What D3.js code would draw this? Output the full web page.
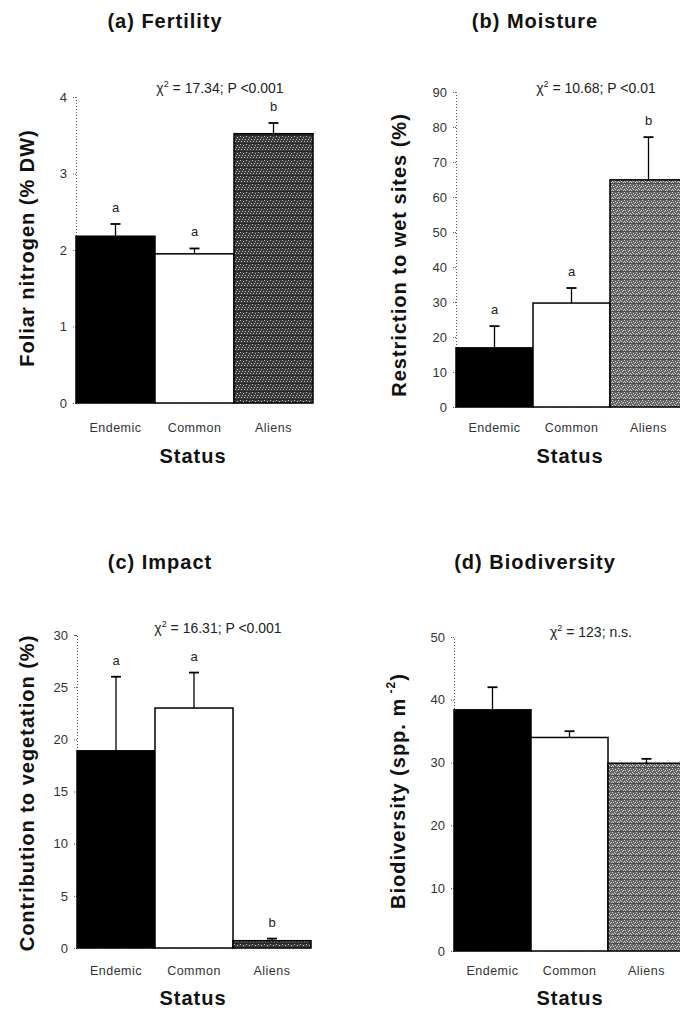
<!DOCTYPE html>
<html>
<head>
<meta charset="utf-8">
<script src="https://cdn.jsdelivr.net/npm/d3@7"></script>
<style>
  body { margin: 0; background: #fff; }
  svg { display: block; font-family: "Liberation Sans", Arial, sans-serif; }
</style>
</head>
<body>
<svg id="chart" width="680" height="1013"></svg>
<script>
// Data
const categories = ["Endemic", "Common", "Aliens"];

const fertilityMean = [2.18, 1.95, 3.52];
const fertilitySE = [0.16, 0.07, 0.14];
const fertilityLetters = ["a", "a", "b"];
const fertilityTicks = [0, 1, 2, 3, 4];

const moistureMean = [16.9, 29.7, 64.9];
const moistureSE = [6.2, 4.3, 12.2];
const moistureLetters = ["a", "a", "b"];
const moistureTicks = [0, 10, 20, 30, 40, 50, 60, 70, 80, 90];

const impactMean = [18.9, 23.0, 0.7];
const impactSE = [7.1, 3.4, 0.2];
const impactLetters = ["a", "a", "b"];
const impactTicks = [0, 5, 10, 15, 20, 25, 30];

const biodivMean = [38.4, 34.0, 29.9];
const biodivSE = [3.6, 1.0, 0.7];
const biodivLetters = ["", "", ""];
const biodivTicks = [0, 10, 20, 30, 40, 50];

const svg = d3.select("#chart");

// Stippled grey textures for the Aliens bars
const defs = svg.append("defs");
function stipple(id, base, light, line, dots) {
    const p = defs.append("pattern")
        .attr("id", id)
        .attr("patternUnits", "userSpaceOnUse")
        .attr("width", 6).attr("height", 8);
    p.append("rect").attr("width", 6).attr("height", 8).attr("fill", base);
    p.selectAll("rect.d").data(dots).join("rect")
        .attr("class", "d")
        .attr("x", d => d[0]).attr("y", d => d[1])
        .attr("width", 1).attr("height", 1)
        .attr("fill", light);
    p.append("rect").attr("y", 7).attr("width", 6).attr("height", 1)
        .attr("fill", line).attr("opacity", 0.5);
}
stipple("texDark", "#3c3c3c", "#bdbdbd", "#111",
    [[0, 0], [3, 1], [5, 3], [2, 3], [4, 5], [1, 5]]);
stipple("texMid", "#666", "#d0d0d0", "#333",
    [[0, 0], [3, 1], [1, 2], [5, 2], [4, 3], [2, 4], [0, 5], [3, 5], [5, 6], [1, 6]]);

const panels = [
    { title: "(a) Fertility", titleX: 165, titleY: 28,
      ylabel: "Foliar nitrogen (% DW)", labX: 27, labY: 248,
      mean: fertilityMean, se: fertilitySE, letters: fertilityLetters,
      ticks: fertilityTicks, left: 76, bw: 79, y0: 403, y1: 97,
      stat: ["17.34; P <0.001"], statX: 220, statY: 93,
      alienFill: "url(#texDark)", statusX: 193, statusY: 463, catY: 432 },
    { title: "(b) Moisture", titleX: 535, titleY: 28,
      ylabel: "Restriction to wet sites (%)", labX: 399, labY: 255,
      mean: moistureMean, se: moistureSE, letters: moistureLetters,
      ticks: moistureTicks, left: 456, bw: 77, y0: 407, y1: 92,
      stat: ["10.68; P <0.01"], statX: 596, statY: 93,
      alienFill: "url(#texMid)", statusX: 570, statusY: 463, catY: 432 },
    { title: "(c) Impact", titleX: 160, titleY: 569,
      ylabel: "Contribution to vegetation (%)", labX: 27, labY: 793,
      mean: impactMean, se: impactSE, letters: impactLetters,
      ticks: impactTicks, left: 77, bw: 78, y0: 948, y1: 635,
      stat: ["16.31; P <0.001"], statX: 218, statY: 633,
      alienFill: "url(#texDark)", statusX: 193, statusY: 1005, catY: 975 },
    { title: "(d) Biodiversity", titleX: 535, titleY: 569,
      ylabel: "Biodiversity (spp. m", labX: 398, labY: 791, sup: "-2",
      mean: biodivMean, se: biodivSE, letters: biodivLetters,
      ticks: biodivTicks, left: 454, bw: 77, y0: 951, y1: 637,
      stat: ["123; n.s."], statX: 591, statY: 637,
      alienFill: "url(#texMid)", statusX: 570, statusY: 1005, catY: 975 }
];

panels.forEach(drawPanel);

function drawPanel(p) {
    const g = svg.append("g");
    const rows = categories.map((c, i) => ({ cat: c, mean: p.mean[i], se: p.se[i], letter: p.letters[i] }));

    const x = d3.scaleBand()
        .domain(categories)
        .range([p.left, p.left + p.bw * 3])
        .padding(0);
    const y = d3.scaleLinear()
        .domain([0, d3.max(p.ticks)])
        .range([p.y0, p.y1]);

    // Title
    g.append("text")
        .attr("x", p.titleX).attr("y", p.titleY)
        .attr("text-anchor", "middle")
        .style("font-size", "20px").style("font-weight", "bold")
        .style("letter-spacing", "1px").attr("fill", "#111")
        .text(p.title);

    // Y axis, dotted
    const yAxis = g.append("g")
        .attr("transform", `translate(${p.left},0)`)
        .call(d3.axisLeft(y).tickValues(p.ticks).tickFormat(d3.format("d"))
            .tickSize(3).tickPadding(6));
    yAxis.select(".domain").attr("stroke", "#555").attr("stroke-dasharray", "1,2");
    yAxis.selectAll(".tick line").attr("stroke", "#555").attr("stroke-dasharray", "1,1");
    yAxis.selectAll(".tick text")
        .style("font-size", "13px").attr("fill", "#333")
        .style("font-family", "'Liberation Sans', Arial, sans-serif");

    // Baseline, dotted
    g.append("line")
        .attr("x1", p.left).attr("x2", p.left + p.bw * 3)
        .attr("y1", y(0)).attr("y2", y(0))
        .attr("stroke", "#555").attr("stroke-dasharray", "1,2");

    // Bars
    g.selectAll("rect.bar").data(rows).join("rect")
        .attr("class", "bar")
        .attr("x", d => x(d.cat))
        .attr("y", d => y(d.mean))
        .attr("width", x.bandwidth())
        .attr("height", d => y(0) - y(d.mean))
        .attr("fill", (d, i) => i === 0 ? "#000" : i === 1 ? "#fff" : p.alienFill)
        .attr("stroke", "#000")
        .attr("stroke-width", 1.5);

    // Error bars (upper only)
    const cx = d => x(d.cat) + x.bandwidth() / 2;
    g.selectAll("line.err").data(rows).join("line")
        .attr("class", "err")
        .attr("x1", cx).attr("x2", cx)
        .attr("y1", d => y(d.mean)).attr("y2", d => y(d.mean + d.se))
        .attr("stroke", "#000").attr("stroke-width", 1.3);
    g.selectAll("line.cap").data(rows).join("line")
        .attr("class", "cap")
        .attr("x1", d => cx(d) - 5).attr("x2", d => cx(d) + 5)
        .attr("y1", d => y(d.mean + d.se)).attr("y2", d => y(d.mean + d.se))
        .attr("stroke", "#000").attr("stroke-width", 1.8);

    // Significance letters
    g.selectAll("text.letter").data(rows).join("text")
        .attr("class", "letter")
        .attr("x", cx)
        .attr("y", d => y(d.mean + d.se) - 12)
        .attr("text-anchor", "middle")
        .style("font-size", "13px").attr("fill", "#222")
        .text(d => d.letter);

    // Chi-square statistic
    const st = g.append("text")
        .attr("x", p.statX).attr("y", p.statY)
        .attr("text-anchor", "middle")
        .style("font-size", "14px").attr("fill", "#222");
    st.append("tspan").text("χ");
    st.append("tspan").attr("dy", -6).style("font-size", "9px").text("2");
    st.append("tspan").attr("dy", 6).text(" = " + p.stat[0]);

    // Category labels
    g.selectAll("text.cat").data(rows).join("text")
        .attr("class", "cat")
        .attr("x", cx).attr("y", p.catY)
        .attr("text-anchor", "middle")
        .style("font-size", "12.5px").style("letter-spacing", "0.5px")
        .attr("fill", "#333")
        .text(d => d.cat);

    // X title
    g.append("text")
        .attr("x", p.statusX).attr("y", p.statusY)
        .attr("text-anchor", "middle")
        .style("font-size", "20px").style("font-weight", "bold")
        .style("letter-spacing", "1px").attr("fill", "#111")
        .text("Status");

    // Y title
    const yl = g.append("text")
        .attr("transform", `translate(${p.labX},${p.labY}) rotate(-90)`)
        .attr("text-anchor", "middle")
        .attr("dominant-baseline", "central")
        .style("font-size", "20px").style("font-weight", "bold")
        .style("letter-spacing", "1px").attr("fill", "#111");
    yl.append("tspan").text(p.ylabel);
    if (p.sup) {
        yl.append("tspan").attr("dy", -7).style("font-size", "12px").text(" " + p.sup);
        yl.append("tspan").attr("dy", 7).text(")");
    }
}
</script>
</body>
</html>
